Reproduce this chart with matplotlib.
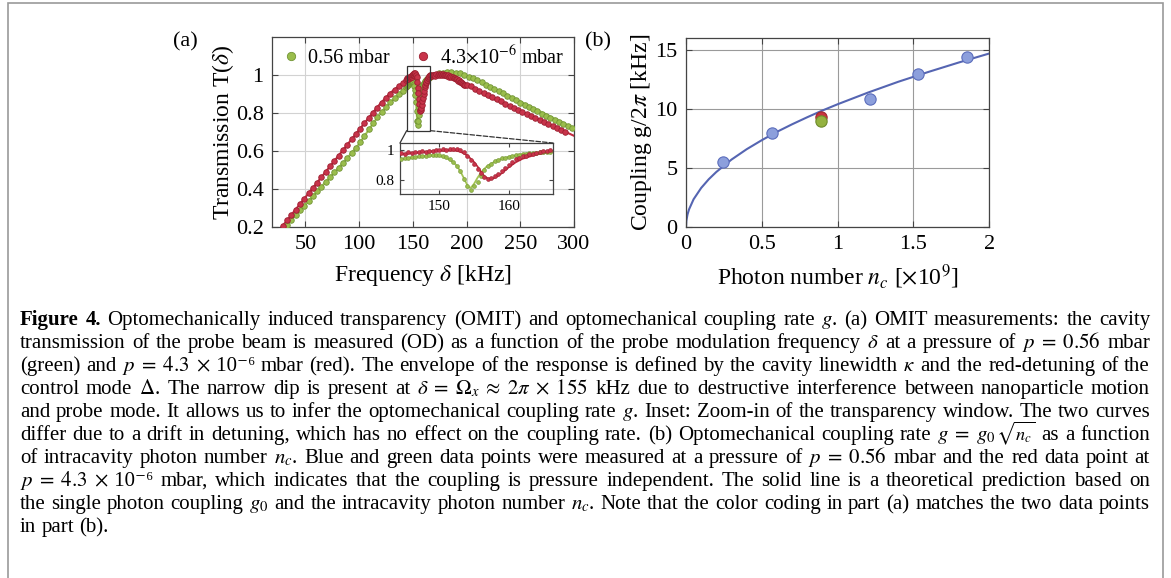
import matplotlib.pyplot as plt
from matplotlib.patches import Rectangle, ConnectionPatch

plt.rcParams['font.family'] = ['Liberation Serif', 'DejaVu Serif']
plt.rcParams['mathtext.fontset'] = 'stix'

# ---------------- panel (a): OMIT transmission ----------------
# 0.56 mbar (green) measured points
green_x_rise = [33, 37, 41, 45, 49, 53, 57, 61, 65, 69, 73, 77, 81, 85, 89, 93, 97,
                101, 105, 109, 113, 117, 121, 125, 129, 133, 137, 141]
green_y_rise = [0.212, 0.238, 0.263, 0.288, 0.313, 0.338, 0.363, 0.388, 0.413, 0.438,
                0.463, 0.488, 0.513, 0.538, 0.563, 0.589, 0.617, 0.648, 0.681, 0.714,
                0.746, 0.778, 0.806, 0.832, 0.856, 0.878, 0.898, 0.917]
green_x_dip = [144.0, 144.5, 145.0, 145.5, 146.0, 146.5, 147.0, 147.5, 148.0, 148.5,
               149.0, 149.5, 150.0, 150.5, 151.0, 151.5, 152.0, 152.5, 153.0, 153.5,
               154.0, 154.5, 155.0, 155.5, 156.0, 156.5, 157.0, 157.5, 158.0, 158.5,
               159.0, 159.5, 160.0, 160.5, 161.0, 161.5, 162.0, 162.5, 163.0, 163.5,
               164.0, 164.5, 165.0, 165.5, 166.0]
green_y_dip = [0.938, 0.942, 0.946, 0.950, 0.953, 0.956, 0.958, 0.961, 0.962, 0.966,
               0.965, 0.968, 0.965, 0.962, 0.955, 0.940, 0.920, 0.895, 0.860, 0.810,
               0.760, 0.735, 0.760, 0.790, 0.830, 0.870, 0.895, 0.910, 0.925, 0.935,
               0.945, 0.950, 0.955, 0.960, 0.965, 0.968, 0.972, 0.975, 0.978, 0.980,
               0.982, 0.985, 0.985, 0.988, 0.990]
green_x_fall = [170, 174, 178, 182, 186, 190, 194, 198, 202, 206, 210, 214, 218, 222,
                226, 230, 234, 238, 242, 246, 250, 254, 258, 262, 266, 270, 274, 278,
                282, 286, 290, 294, 298]
green_y_fall = [1.000, 1.008, 1.013, 1.017, 1.016, 1.013, 1.008, 1.000, 0.992, 0.982,
                0.972, 0.961, 0.950, 0.939, 0.927, 0.915, 0.903, 0.891, 0.879, 0.867,
                0.855, 0.843, 0.831, 0.820, 0.808, 0.797, 0.786, 0.775, 0.764, 0.753,
                0.743, 0.733, 0.723]

# 4.3e-6 mbar (red) measured points
red_x_rise = [29, 33, 37, 41, 45, 49, 53, 57, 61, 65, 69, 73, 77, 81, 85, 89, 93, 97,
              101, 105, 109, 113, 117, 121, 125, 129, 133, 137, 141]
red_y_rise = [0.207, 0.236, 0.264, 0.292, 0.321, 0.349, 0.378, 0.406, 0.434, 0.463,
              0.491, 0.520, 0.548, 0.576, 0.605, 0.633, 0.662, 0.690, 0.718, 0.747,
              0.775, 0.802, 0.828, 0.853, 0.877, 0.899, 0.920, 0.940, 0.958]
red_x_dip = green_x_dip
red_y_dip = [0.972, 0.982, 0.977, 0.986, 0.981, 0.990, 0.985, 0.992, 0.989, 0.996,
             0.991, 1.001, 0.998, 1.006, 1.002, 1.009, 1.004, 1.008, 1.000, 0.990,
             0.962, 0.932, 0.905, 0.876, 0.846, 0.818, 0.808, 0.815, 0.826, 0.840,
             0.862, 0.879, 0.902, 0.918, 0.938, 0.947, 0.958, 0.963, 0.973, 0.976,
             0.983, 0.984, 0.991, 0.993, 0.999]
red_x_fall = [167, 168, 169, 170, 171, 172, 173, 174, 175, 176, 177, 178, 179, 180,
              181, 182, 183, 184, 185, 186, 187, 188, 189, 190, 191, 192, 193, 194,
              195, 196, 197, 198, 199, 200, 204, 208, 212, 216, 220, 224, 228, 232,
              236, 240, 244, 248, 252, 256, 260, 264, 268, 272, 276, 280, 284, 288, 292]
red_y_fall = [1.000, 0.995, 1.000, 1.002, 0.997, 1.003, 1.000, 1.005, 1.000, 1.004,
              0.998, 1.003, 1.000, 0.998, 1.002, 0.995, 0.998, 0.990, 0.995, 0.988,
              0.990, 0.982, 0.985, 0.978, 0.978, 0.970, 0.972, 0.965, 0.963, 0.958,
              0.955, 0.950, 0.948, 0.945, 0.940, 0.928, 0.917, 0.905, 0.894, 0.883,
              0.872, 0.861, 0.850, 0.839, 0.828, 0.816, 0.805, 0.794, 0.783, 0.773,
              0.762, 0.752, 0.742, 0.731, 0.721, 0.711, 0.700]

# fitted curves
green_fit_x = [20, 30, 40, 50, 60, 70, 80, 90, 100, 110, 120, 130, 140, 144, 146, 148,
               149, 150, 151, 152, 152.5, 153, 153.5, 154, 154.3, 154.6, 155, 155.5,
               156, 156.7, 157.5, 158.4, 160, 162.2, 166, 170, 180, 190, 200, 220, 240,
               260, 280, 300]
green_fit_y = [0.131, 0.194, 0.256, 0.319, 0.381, 0.444, 0.506, 0.569, 0.637, 0.720,
               0.800, 0.862, 0.912, 0.935, 0.950, 0.960, 0.964, 0.960, 0.948, 0.920,
               0.895, 0.860, 0.815, 0.768, 0.748, 0.752, 0.775, 0.815, 0.850, 0.885,
               0.910, 0.933, 0.955, 0.975, 0.990, 1.000, 1.015, 1.013, 0.996, 0.945,
               0.890, 0.832, 0.776, 0.720]
red_fit_x = [20, 30, 40, 50, 60, 70, 80, 90, 100, 110, 120, 130, 140, 145, 148, 150,
             152, 153, 154, 155, 155.5, 156, 156.5, 157, 157.5, 158, 159, 160, 161, 162,
             164, 166, 170, 175, 180, 190, 200, 220, 240, 260, 280, 300]
red_fit_y = [0.143, 0.214, 0.285, 0.356, 0.427, 0.498, 0.569, 0.640, 0.711, 0.782,
             0.851, 0.910, 0.955, 0.975, 0.988, 0.995, 0.998, 0.990, 0.965, 0.920,
             0.890, 0.855, 0.825, 0.810, 0.808, 0.815, 0.845, 0.885, 0.918, 0.942,
             0.970, 0.985, 0.995, 0.998, 0.996, 0.982, 0.950, 0.885, 0.838, 0.785,
             0.732, 0.680]

a_xticks = [50, 100, 150, 200, 250, 300]
a_yticks = [0.2, 0.4, 0.6, 0.8, 1.0]
a_yticklabels = ['0.2', '0.4', '0.6', '0.8', '1']
zoom_x = (144.3, 166.4)
zoom_y = (0.707, 1.047)
inset_xticks = [150, 160]
inset_yticks = [0.8, 1.0]
inset_yticklabels = ['0.8', '1']

# ---------------- panel (b): coupling rate ----------------
blue_nc = [0.246, 0.569, 1.213, 1.532, 1.851]
blue_g = [5.53, 7.95, 10.88, 12.97, 14.38]
red_nc = [0.89]
red_g = [9.30]
green_nc = [0.89]
green_g = [8.94]
theory_nc = [0, 0.002, 0.01, 0.02, 0.05, 0.1, 0.15, 0.2, 0.3, 0.4, 0.5, 0.6, 0.7, 0.8,
             0.9, 1.0, 1.2, 1.4, 1.6, 1.8, 2.0]
theory_g = [0, 0.47, 1.04, 1.47, 2.33, 3.29, 4.03, 4.65, 5.70, 6.58, 7.35, 8.06, 8.70,
            9.30, 9.87, 10.40, 11.39, 12.31, 13.15, 13.95, 14.71]
b_xticks = [0, 0.5, 1, 1.5, 2]
b_xticklabels = ['0', '0.5', '1', '1.5', '2']
b_yticks = [0, 5, 10, 15]

# '|' joins pieces of one word that are drawn side by side
caption = [
    r"Figure 4. Optomechanically induced transparency (OMIT) and optomechanical coupling rate $g$. (a) OMIT measurements: the cavity",
    r"transmission of the probe beam is measured (OD) as a function of the probe modulation frequency $\delta$ at a pressure of $p\;=\;0.56$ mbar",
    "(green) and $p\\;=\\;4.3\\;\\times$|\u00a010⁻⁶ mbar (red). The envelope of the response is defined by the cavity linewidth $\\kappa$ and the red-detuning of the",
    r"control mode $\Delta$. The narrow dip is present at $\delta\;=\;\Omega_x\;\approx\;2\pi\;\times\;155$ kHz due to destructive interference between nanoparticle motion",
    r"and probe mode. It allows us to infer the optomechanical coupling rate $g$. Inset: Zoom-in of the transparency window. The two curves",
    r"differ due to a drift in detuning, which has no effect on the coupling rate. (b) Optomechanical coupling rate $g\;=\;g_0\,$|$\sqrt{n_c}$ as a function",
    r"of intracavity photon number $n_c$. Blue and green data points were measured at a pressure of $p\;=\;0.56$ mbar and the red data point at",
    "$p\\;=\\;4.3\\;\\times$|\u00a010⁻⁶ mbar, which indicates that the coupling is pressure independent. The solid line is a theoretical prediction based on",
    r"the single photon coupling $g_0$ and the intracavity photon number $n_c$. Note that the color coding in part (a) matches the two data points",
    r"in part (b).",
]

W, H = 1171, 578
fig = plt.figure(figsize=(W / 100, H / 100), dpi=100)


def px_axes(l, t, r, b):
    return fig.add_axes([l / W, 1 - b / H, (r - l) / W, (b - t) / H])


G_FACE, G_EDGE, G_LINE = '#9ABD4C', '#719434', '#A3C454'
R_FACE, R_EDGE, R_LINE = '#C8334A', '#9C1F30', '#C42B40'
SPINE = '#444444'

ax = px_axes(272, 37, 574, 227)
gx = green_x_rise + green_x_dip + green_x_fall
gy = green_y_rise + green_y_dip + green_y_fall
rx = red_x_rise + red_x_dip + red_x_fall
ry = red_y_rise + red_y_dip + red_y_fall
ax.plot(green_fit_x, green_fit_y, color=G_LINE, lw=1.5, zorder=2)
ax.plot(red_fit_x, red_fit_y, color=R_LINE, lw=1.5, zorder=2)
ax.plot(gx, gy, 'o', ms=4.0, mfc=G_FACE, mec=G_EDGE, mew=0.6, ls='none',
        label='0.56 mbar', zorder=3)
ax.plot(rx, ry, 'o', ms=4.0, mfc=R_FACE, mec=R_EDGE, mew=0.6, ls='none',
        label=r'4.3$\times$10$^{-6}$ mbar', zorder=3)
ax.set_xlim(19, 300)
ax.set_ylim(0.2, 1.2)
ax.set_xticks(a_xticks)
ax.set_yticks(a_yticks)
ax.set_yticklabels(a_yticklabels)
ax.grid(color='#d2d2d2', lw=0.8)
ax.set_axisbelow(True)
ax.tick_params(direction='in', top=True, right=True, labelsize=16, length=4,
               color=SPINE, pad=6)
for s in ax.spines.values():
    s.set_color(SPINE)
    s.set_linewidth(0.9)
ax.set_xlabel(r'Frequency $\delta$ [kHz]', fontsize=17)
ax.set_ylabel(r'Transmission T($\delta$)', fontsize=17)
ax.xaxis.set_label_coords(0.5, -0.19)
ax.yaxis.set_label_coords(-0.12, 0.5)
ax.legend(loc='upper center', bbox_to_anchor=(0.505, 1.02), ncol=2, frameon=False,
          fontsize=14.5, handlelength=0.7, handletextpad=0.5, columnspacing=1.3,
          markerscale=1.5, borderaxespad=0.2)

ax.add_patch(Rectangle((zoom_x[0], zoom_y[0]), zoom_x[1] - zoom_x[0],
                       zoom_y[1] - zoom_y[0], fill=False, ec='#333333', lw=0.9,
                       zorder=4))

axin = px_axes(400, 143, 553, 194)
axin.patch.set_alpha(0)
axin.plot(green_fit_x, green_fit_y, color=G_LINE, lw=1.3, zorder=2)
axin.plot(red_fit_x, red_fit_y, color=R_LINE, lw=1.3, zorder=2)
axin.plot(gx, gy, 'o', ms=2.8, mfc=G_FACE, mec=G_EDGE, mew=0.4, ls='none', zorder=3)
axin.plot(rx, ry, 'o', ms=2.8, mfc=R_FACE, mec=R_EDGE, mew=0.4, ls='none', zorder=3)
axin.set_xlim(*zoom_x)
axin.set_ylim(*zoom_y)
axin.set_xticks(inset_xticks)
axin.set_yticks(inset_yticks)
axin.set_yticklabels(inset_yticklabels)
axin.tick_params(direction='in', top=True, right=True, labelsize=11, length=3,
                 color=SPINE, pad=4)
for s in axin.spines.values():
    s.set_color(SPINE)
    s.set_linewidth(0.9)

fig.add_artist(ConnectionPatch(xyA=(zoom_x[1], zoom_y[0]), coordsA=ax.transData,
                               xyB=(1, 1), coordsB=axin.transAxes, ls='--',
                               color='#333333', lw=0.9))
fig.add_artist(ConnectionPatch(xyA=(zoom_x[0], zoom_y[0]), coordsA=ax.transData,
                               xyB=(0, 1), coordsB=axin.transAxes,
                               color='#333333', lw=0.9))

# ---------------- panel (b) ----------------
bx = px_axes(686, 38.3, 989.3, 226.7)
bx.plot(theory_nc, theory_g, color='#5565B2', lw=1.5, zorder=2)
bx.scatter(blue_nc, blue_g, s=66, c='#8C9FDC', edgecolors='#5C6EBC', lw=0.8, zorder=3)
bx.scatter(red_nc, red_g, s=66, c='#C8343F', edgecolors='#A02A30', lw=0.8, zorder=3)
bx.scatter(green_nc, green_g, s=66, c='#94B240', edgecolors='#6F8C2C', lw=0.8, zorder=4)
bx.set_xlim(0, 2)
bx.set_ylim(0, 16)
bx.set_xticks(b_xticks)
bx.set_xticklabels(b_xticklabels)
bx.set_yticks(b_yticks)
bx.grid(color='#9a9a9a', lw=0.8)
bx.set_axisbelow(True)
bx.tick_params(direction='in', top=True, right=True, labelsize=16, length=4,
               color=SPINE, pad=6)
for s in bx.spines.values():
    s.set_color(SPINE)
    s.set_linewidth(0.9)
bx.set_xlabel(r'Photon number $n_c$ [$\times$10$^9$]', fontsize=17)
bx.set_ylabel(r'Coupling g/2$\pi$ [kHz]', fontsize=17)
bx.xaxis.set_label_coords(0.5, -0.19)
bx.yaxis.set_label_coords(-0.105, 0.5)

fig.text(185 / W, 1 - 42 / H, '(a)', fontsize=16, ha='center', va='center')
fig.text(598 / W, 1 - 42 / H, '(b)', fontsize=16, ha='center', va='center')

# outer frame
fig.add_artist(Rectangle((8 / W, -0.05), (1163 - 8) / W, 1.05 - 3 / H,
                         transform=fig.transFigure, fill=False, ec='#9a9a9a', lw=1.2))

# ---------------- caption (justified lines) ----------------
renderer = fig.canvas.get_renderer()
cap_fs = 15
x0, x1 = 20, 1150
for i, line in enumerate(caption):
    words = line.split(' ')
    base = 1 - (325 + 23 * i) / H
    fs = cap_fs
    while True:
        groups = []
        for k, w in enumerate(words):
            bold = (i == 0 and k < 2)
            parts = []
            for piece in w.split('|'):
                # the root sign is tall: draw it a little smaller
                size = fs * 0.88 if 'sqrt' in piece else fs
                t = fig.text(0, base, piece, fontsize=size, va='baseline',
                             fontweight='bold' if bold else 'normal')
                parts.append((t, t.get_window_extent(renderer).width))
            groups.append(parts)
        widths = [sum(p[1] for p in g) for g in groups]
        min_gap = fs * 100 / 72 * 0.22
        if sum(widths) + min_gap * (len(words) - 1) <= x1 - x0 or fs < 11:
            break
        for g in groups:
            for t, _ in g:
                t.remove()
        fs -= 0.25
    if i < len(caption) - 1 and len(words) > 1:
        gap = (x1 - x0 - sum(widths)) / (len(words) - 1)
    else:
        gap = fs * 100 / 72 * 0.25
    x = x0
    for g, wd in zip(groups, widths):
        xp = x
        for t, pw in g:
            t.set_x(xp / W)
            xp += pw
        x += wd + gap

fig.savefig('out.png', dpi=100)
